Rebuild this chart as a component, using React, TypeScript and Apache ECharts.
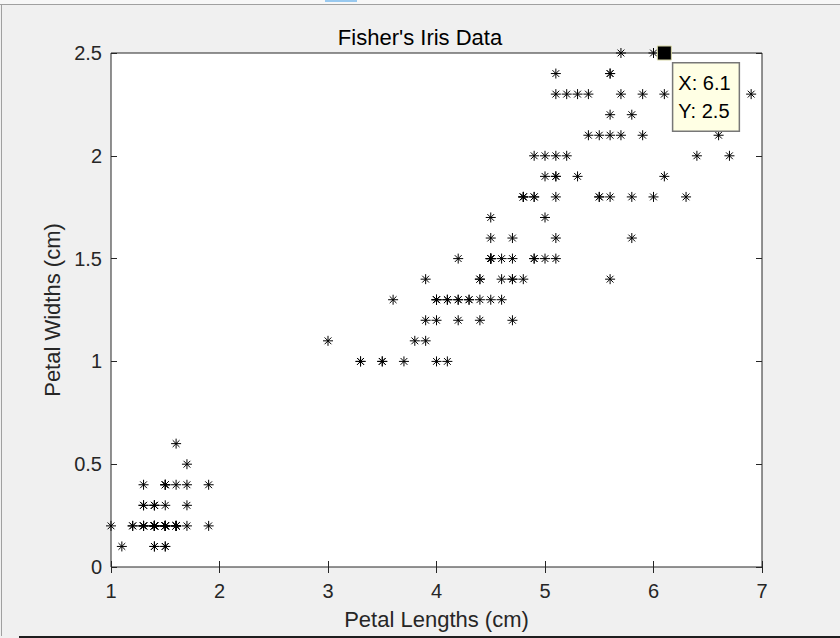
import React, { useEffect, useRef } from "react";
import * as echarts from "echarts";

// Fisher's iris data: petal length and petal width (cm)
const petalLengths: number[] = [
  1.4, 1.4, 1.3, 1.5, 1.4, 1.7, 1.4, 1.5, 1.4, 1.5, 1.5, 1.6, 1.4, 1.1, 1.2, 1.5, 1.3, 1.4, 1.7, 1.5,
  1.7, 1.5, 1.0, 1.7, 1.9, 1.6, 1.6, 1.5, 1.4, 1.6, 1.6, 1.5, 1.5, 1.4, 1.5, 1.2, 1.3, 1.4, 1.3, 1.5,
  1.3, 1.3, 1.3, 1.6, 1.9, 1.4, 1.6, 1.4, 1.5, 1.4,
  4.7, 4.5, 4.9, 4.0, 4.6, 4.5, 4.7, 3.3, 4.6, 3.9, 3.5, 4.2, 4.0, 4.7, 3.6, 4.4, 4.5, 4.1, 4.5, 3.9,
  4.8, 4.0, 4.9, 4.7, 4.3, 4.4, 4.8, 5.0, 4.5, 3.5, 3.8, 3.7, 3.9, 5.1, 4.5, 4.5, 4.7, 4.4, 4.1, 4.0,
  4.4, 4.6, 4.0, 3.3, 4.2, 4.2, 4.2, 4.3, 3.0, 4.1,
  6.0, 5.1, 5.9, 5.6, 5.8, 6.6, 4.5, 6.3, 5.8, 6.1, 5.1, 5.3, 5.5, 5.0, 5.1, 5.3, 5.5, 6.7, 6.9, 5.0,
  5.7, 4.9, 6.7, 4.9, 5.7, 6.0, 4.8, 4.9, 5.6, 5.8, 6.1, 6.4, 5.6, 5.1, 5.6, 6.1, 5.6, 5.5, 4.8, 5.4,
  5.6, 5.1, 5.1, 5.9, 5.7, 5.2, 5.0, 5.2, 5.4, 5.1,
];
const petalWidths: number[] = [
  0.2, 0.2, 0.2, 0.2, 0.2, 0.4, 0.3, 0.2, 0.2, 0.1, 0.2, 0.2, 0.1, 0.1, 0.2, 0.4, 0.4, 0.3, 0.3, 0.3,
  0.2, 0.4, 0.2, 0.5, 0.2, 0.2, 0.4, 0.2, 0.2, 0.2, 0.2, 0.4, 0.1, 0.2, 0.2, 0.2, 0.2, 0.1, 0.2, 0.2,
  0.3, 0.3, 0.2, 0.6, 0.4, 0.3, 0.2, 0.2, 0.2, 0.2,
  1.4, 1.5, 1.5, 1.3, 1.5, 1.3, 1.6, 1.0, 1.3, 1.4, 1.0, 1.5, 1.0, 1.4, 1.3, 1.4, 1.5, 1.0, 1.5, 1.1,
  1.8, 1.3, 1.5, 1.2, 1.3, 1.4, 1.4, 1.7, 1.5, 1.0, 1.1, 1.0, 1.2, 1.6, 1.5, 1.6, 1.5, 1.3, 1.3, 1.3,
  1.2, 1.4, 1.2, 1.0, 1.3, 1.2, 1.3, 1.3, 1.1, 1.3,
  2.5, 1.9, 2.1, 1.8, 2.2, 2.1, 1.7, 1.8, 1.8, 2.5, 2.0, 1.9, 2.1, 2.0, 2.4, 2.3, 1.8, 2.2, 2.3, 1.5,
  2.3, 2.0, 2.0, 1.8, 2.1, 1.8, 1.8, 1.8, 2.1, 1.6, 1.9, 2.0, 2.2, 1.5, 1.4, 2.3, 2.4, 1.8, 1.8, 2.1,
  2.4, 2.3, 1.9, 2.3, 2.5, 2.3, 1.9, 2.0, 2.3, 1.8,
];
const xTicks = { min: 1, max: 7, interval: 1 };
const yTicks = { min: 0, max: 2.5, interval: 0.5 };
const dataTip: [number, number] = [6.1, 2.5];

const titleText = "Fisher's Iris Data";
const xLabel = "Petal Lengths (cm)";
const yLabel = "Petal Widths (cm)";

const STAR = "path://M5 0L5 10M0 5L10 5M1.6 1.6L8.4 8.4M1.6 8.4L8.4 1.6";

export default function App() {
  const ref = useRef<HTMLDivElement>(null);
  useEffect(() => {
    if (!ref.current) return;
    const chart = echarts.init(ref.current, undefined, { renderer: "svg" });
    const points = petalLengths.map((x, i) => [x, petalWidths[i]]);
    const font = "'Liberation Sans', Arial, Helvetica, sans-serif";
    const axisCommon = {
      type: "value" as const,
      splitLine: { show: false },
      axisLine: { show: false },
      axisTick: { show: true, inside: true, length: 6, lineStyle: { color: "#262626", width: 1 } },
    };
    chart.setOption({
      animation: false,
      backgroundColor: "#f0f0f0",
      textStyle: { fontFamily: font },
      title: {
        text: titleText,
        left: "center",
        top: 26,
        padding: 0,
        textStyle: { fontFamily: font, fontSize: 22, fontWeight: "normal", color: "#000" },
      },
      grid: {
        left: 111,
        top: 53,
        right: 78,
        bottom: 71,
        show: true,
        backgroundColor: "#ffffff",
        borderColor: "#262626",
        borderWidth: 1,
      },
      xAxis: [
        {
          ...axisCommon,
          ...xTicks,
          position: "bottom",
          name: xLabel,
          nameLocation: "middle",
          nameGap: 41,
          nameTextStyle: { fontFamily: font, fontSize: 22, color: "#262626" },
          axisLabel: { fontFamily: font, fontSize: 20, color: "#262626", margin: 14 },
        },
        {
          ...axisCommon,
          ...xTicks,
          position: "top",
          axisLabel: { show: false },
        },
      ],
      yAxis: [
        {
          ...axisCommon,
          ...yTicks,
          position: "left",
          name: yLabel,
          nameLocation: "middle",
          nameGap: 40,
          nameTextStyle: { fontFamily: font, fontSize: 22, color: "#262626" },
          axisLabel: { fontFamily: font, fontSize: 20, color: "#262626", margin: 9 },
        },
        {
          ...axisCommon,
          ...yTicks,
          position: "right",
          axisLabel: { show: false },
        },
      ],
      series: [
        {
          type: "scatter",
          data: points,
          symbol: STAR,
          symbolSize: 10,
          clip: false,
          itemStyle: { color: "none", borderColor: "#000", borderWidth: 1, opacity: 1 },
          emphasis: { disabled: true },
          z: 2,
        },
        {
          type: "scatter",
          data: [dataTip],
          symbol: "rect",
          symbolSize: 14,
          clip: false,
          zlevel: 1,
          itemStyle: { color: "#000", borderColor: "#d8d8a8", borderWidth: 1, opacity: 1 },
          emphasis: { disabled: true },
          z: 10,
          label: {
            show: true,
            position: [16.5, 18],
            align: "left",
            verticalAlign: "top",
            formatter: () => `X: ${dataTip[0]}\nY: ${dataTip[1]}`,
            fontFamily: font,
            fontSize: 20,
            lineHeight: 28,
            color: "#000",
            opacity: 1,
            backgroundColor: "#ffffe4",
            borderColor: "#777777",
            borderWidth: 1.5,
            padding: [5, 8, 6, 5],
          },
        },
      ],
      graphic: [
        { type: "rect", shape: { x: 0, y: 0, width: 840, height: 4 }, style: { fill: "#f7f7f7" }, silent: true },
        { type: "line", shape: { x1: 0, y1: 4.5, x2: 840, y2: 4.5 }, style: { stroke: "#a0a0a0", lineWidth: 1 }, silent: true },
        { type: "rect", shape: { x: 325, y: 0, width: 32, height: 2 }, style: { fill: "#99c9ef" }, silent: true },
        { type: "line", shape: { x1: 1.5, y1: 5, x2: 1.5, y2: 636 }, style: { stroke: "#a0a0a0", lineWidth: 1 }, silent: true },
        { type: "rect", shape: { x: 19, y: 636, width: 821, height: 2 }, style: { fill: "#1e1e1e" }, silent: true },
      ],
    });
    return () => chart.dispose();
  }, []);
  return (
    <div
      ref={ref}
      style={{ position: "fixed", left: 0, top: 0, width: 840, height: 638 }}
    />
  );
}
